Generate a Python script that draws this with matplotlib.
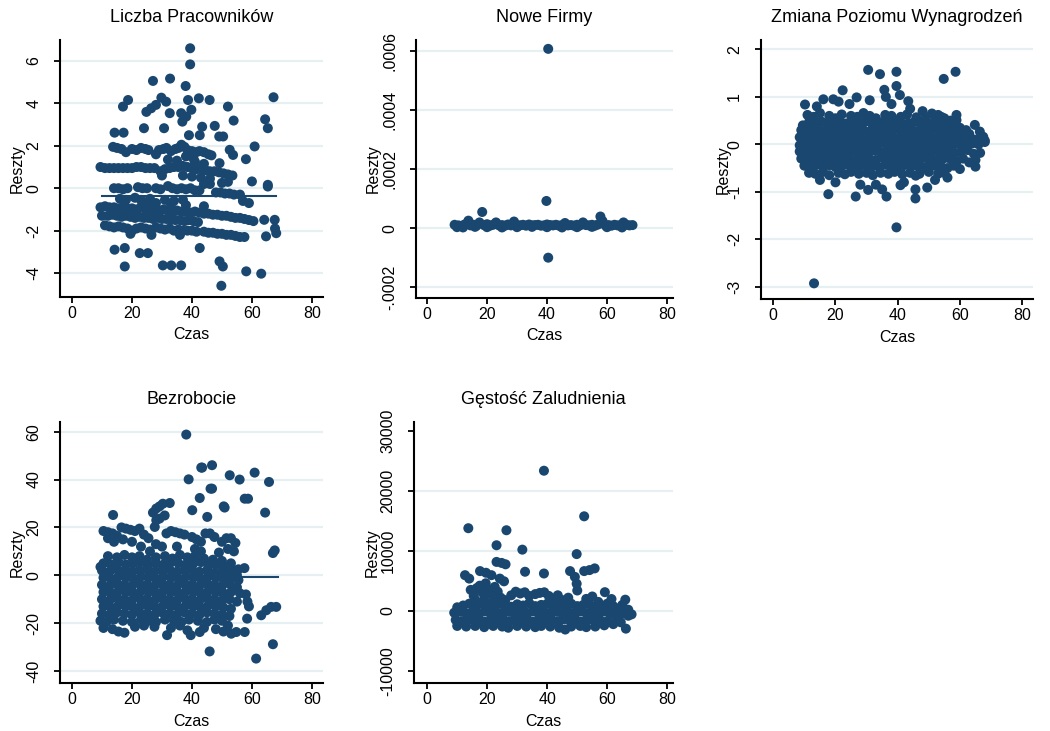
import matplotlib
matplotlib.use('Agg')
import matplotlib.pyplot as plt

plt.rcParams['font.family'] = ['Liberation Sans', 'DejaVu Sans']

# --- dane: (czas, reszta) ---
pracownicy = [
    (39.4, 6.6), (39.4, 5.84), (27, 5.06), (32.7, 5.17), (37.9, 4.82), (17, 3.85), (18.7, 4.16), (29.8, 4.27),
    (31.4, 4.08), (24.8, 3.6), (26.4, 3.77), (28, 3.93), (32.6, 3.54), (36.4, 3.54), (36.8, 3.14), (38.1, 3.38),
    (39.8, 3.7), (38.7, 4.16), (42.3, 4.24), (45.9, 4.16), (52, 3.85), (53.9, 3.19), (64.4, 3.25), (65.3, 2.83),
    (67.2, 4.29), (24, 2.83), (30.7, 2.83), (43.4, 2.9), (47.6, 2.94), (42.6, 2.5), (39, 2.5), (49.1, 2.44),
    (50.4, 2.44), (14.2, 2.62), (17.2, 2.62), (60.9, 1.97), (58, 1.37), (52.6, 1.81), (53.7, 1.57), (49.2, 1.18),
    (60, 0.32), (65.3, 0.16), (65.3, 0.08), (64.1, -1.49), (67.6, -1.49), (64.7, -2.27), (68.1, -2.12),
    (67.7, -1.9), (42.6, -2.82), (14.2, -2.9), (17.6, -2.82), (22.6, -3.06), (25.3, -3.06), (17.6, -3.69),
    (30.3, -3.64), (33.1, -3.64), (36.4, -3.64), (49.2, -3.45), (50.3, -3.69), (58.1, -3.92), (63.1, -4.03),
    (49.8, -4.6),
    (13.7, 1.95), (15, 1.9), (16.5, 1.85), (18, 1.7), (20, 1.85), (21.5, 1.8), (23, 1.9), (24.5, 1.85),
    (25.5, 1.8), (28, 1.6), (29, 1.8), (30.5, 1.85), (31.5, 1.9), (33, 1.75), (34.5, 1.85), (35.5, 1.9),
    (36.5, 2.05), (37.5, 1.95), (38.5, 1.8), (40, 1.75), (41.5, 1.7), (42.5, 1.75), (44, 1.7), (45.5, 1.6),
    (46.5, 1.55), (38, 1.5), (40.5, 1.4),
    (9.5, 1.0), (11, 0.95), (12.5, 0.95), (14, 0.95), (15.5, 0.95), (17, 0.95), (18.5, 0.95), (20, 0.95),
    (21.5, 1.0), (23, 1.0), (24.5, 0.95), (26, 0.95), (27.5, 0.95), (29.5, 0.8), (31, 0.9), (32.5, 0.95),
    (34, 1.0), (35.5, 1.0), (37, 1.05), (38.5, 1.0), (40, 0.95), (41.5, 0.9), (43, 0.9), (44.5, 0.85),
    (46, 0.8), (47.5, 0.8), (49, 0.75), (50.5, 0.7), (52, 0.65), (53.5, 0.6), (35, 1.3), (41, 1.25),
    (44, 1.15), (32, 1.35), (30, 0.6), (37, 0.6), (40, 0.55), (43, 0.5), (46, 0.45),
    (14, 0.0), (15.5, 0.0), (17, -0.05), (18.5, 0.0), (22, 0.05), (23.5, 0.0), (25, 0.0), (28, 0.0),
    (29.5, -0.05), (32, 0.1), (33.5, 0.0), (35, -0.05), (36.5, 0.0), (38, -0.05), (39.5, 0.0), (41, -0.1),
    (42.5, -0.1), (48, -0.2), (49.5, -0.2), (51, -0.25), (52.5, -0.25), (54, -0.3), (56, -0.3), (44, 0.2),
    (46, 0.2), (50, 0.25), (52, 0.3),
    (16, -0.5), (18, -0.55), (21, -0.45), (23, -0.55), (26, -0.5), (31, -0.55), (34, -0.6), (37, -0.55),
    (57, -0.6), (59, -0.7),
    (9.5, -0.9), (11, -0.85), (12.5, -0.9), (14, -0.9), (15.5, -0.95), (17, -0.9), (18.5, -0.95), (20, -0.95),
    (21.5, -1.0), (23, -0.9), (24.5, -1.0), (26, -1.0), (27.5, -1.0), (29, -1.05), (30.5, -1.0), (32, -1.05),
    (33.5, -1.1), (35, -1.05), (36.5, -1.1), (38, -1.1), (39.5, -1.15), (41, -1.1), (42.5, -1.15), (44, -1.2),
    (45.5, -1.2), (47, -1.25), (48.5, -1.25), (50, -1.3), (51.5, -1.3), (53, -1.35), (54.5, -1.4), (56, -1.4),
    (57.5, -1.45), (59, -1.5), (60.5, -1.55),
    (10, -1.3), (12, -1.3), (13.5, -1.25), (15, -1.3), (16.5, -1.35), (18, -1.3), (19.5, -1.35), (21, -1.4),
    (22.5, -1.35), (24, -1.4), (25.5, -1.4), (27, -1.45), (28.5, -1.4), (30, -1.45), (31.5, -1.45), (33, -1.5),
    (34.5, -1.5), (36, -1.5), (37.5, -1.55), (39, -1.5), (40.5, -1.55), (42, -1.6), (23.5, -0.7), (25, -0.75),
    (28, -0.7), (33, -0.75), (38, -0.8), (44, -0.85),
    (11, -1.75), (12.5, -1.8), (14, -1.85), (15.5, -1.8), (17, -1.85), (18.5, -1.9), (20, -2.0), (21.5, -1.9),
    (23, -1.85), (24.5, -1.9), (26, -1.95), (28, -1.85), (29.5, -1.9), (31, -1.95), (32.5, -1.9), (34, -2.0),
    (35.5, -1.95), (37, -2.0), (38.5, -2.0), (40, -2.0), (41.5, -2.05), (44, -2.05), (45.5, -2.1), (47, -2.1),
    (48.5, -2.15), (50, -2.15), (51.5, -2.2), (53, -2.2), (54.5, -2.25), (56, -2.3), (57.5, -2.3), (19.5, -2.15),
    (26.5, -2.2), (36, -2.2),
]

nowe_firmy = [
    (40.4, 0.000608), (39.8, 0.0000927), (40.4, -0.0000994), (18.4, 0.0000554),
    (9.2, 1.2e-5), (10.5, 1.0e-5), (11.5, 0.8e-5), (12.5, 1.3e-5), (13.8, 2.6e-5), (14.5, 1.0e-5), (15.5, 1.2e-5),
    (16.5, 0.9e-5), (17.5, 2.0e-5), (19, 1.1e-5), (20, 1.4e-5), (21, 0.9e-5), (22, 1.2e-5), (23, 2.0e-5),
    (24, 1.0e-5), (25, 1.1e-5), (26, 0.9e-5), (27, 1.3e-5), (28, 1.0e-5), (29, 2.3e-5), (30, 1.1e-5),
    (31, 1.0e-5), (32, 1.2e-5), (33, 0.9e-5), (34, 1.3e-5), (35, 1.0e-5), (36, 1.1e-5), (37, 1.2e-5),
    (38, 0.9e-5), (39, 1.0e-5), (40, 1.3e-5), (41, 1.1e-5), (42, 1.0e-5), (43, 1.2e-5), (44, 0.9e-5),
    (45, 1.1e-5), (46, 1.8e-5), (47, 1.0e-5), (48, 1.1e-5), (49, 0.9e-5), (50, 1.2e-5), (51, 1.0e-5),
    (52, 2.0e-5), (53, 1.1e-5), (54, 1.0e-5), (55, 1.2e-5), (56, 0.9e-5), (57, 1.3e-5), (57.8, 4.0e-5),
    (58.5, 2.5e-5), (59.5, 1.0e-5), (60.5, 1.1e-5), (61.5, 0.9e-5), (62.5, 1.2e-5), (63.5, 1.0e-5),
    (64.5, 1.1e-5), (65.5, 2.0e-5), (66.5, 1.2e-5), (67.5, 1.0e-5), (68.5, 1.1e-5),
    (10, 0.4e-5), (12, 0.3e-5), (16, 0.5e-5), (20, 0.4e-5), (25, 0.3e-5), (30, 0.4e-5), (35, 0.5e-5),
    (40, 0.4e-5), (45, 0.3e-5), (50, 0.4e-5), (55, 0.5e-5), (60, 0.4e-5), (65, 0.3e-5),
]

wynagrodzenia = [
    (30.5, 1.57), (34.3, 1.48), (39.6, 1.53), (54.8, 1.38), (58.6, 1.53), (39.6, 1.23), (35.7, 1.15), (36.2, 1.0),
    (40.7, 1.04), (43.4, 0.91), (22.3, 1.14), (16.1, 0.95), (19.3, 0.95), (26.8, 0.99), (31, 0.93), (10.2, 0.84),
    (17.7, -1.05), (26.5, -1.1), (30.5, -0.96), (36.4, -1.1), (40.9, -0.86), (45.7, -1.14), (45.7, -0.95),
    (45.8, -0.66), (49.5, -0.91), (39.6, -1.75), (13.1, -2.93), (64.8, 0.41), (66.4, 0.27), (67.5, 0.16),
    (68, 0.08), (65, -0.33), (65, -0.47), (58.9, 0.62), (58.9, 0.51), (53, 0.62), (24.5, 0.85), (14, 0.8),
    (21, 0.9), (38, 0.85), (44, 0.75), (48, 0.7), (51, 0.65), (55, 0.55), (33, -0.85), (35, -0.95), (28, -0.85),
    (20, -0.8), (15, -0.75), (42, -0.8), (52, -0.75), (56, -0.7),
    (11, 0.62), (13, 0.58), (15, 0.66), (18, 0.6), (20, 0.55), (22, 0.63), (25, 0.6), (27, 0.58), (29, 0.66),
    (31, 0.6), (33, 0.55), (36, 0.62), (38, 0.6), (41, 0.58), (43, 0.63), (46, 0.57), (49, 0.55), (52, 0.5),
    (54, 0.58), (57, 0.5),
    (9.5, 0.4), (11.5, 0.47), (13.5, 0.43), (15.5, 0.48), (17.5, 0.45), (19.5, 0.42), (21.5, 0.47), (23.5, 0.44),
    (25.5, 0.46), (27.5, 0.42), (29.5, 0.48), (31.5, 0.45), (33.5, 0.43), (35.5, 0.47), (37.5, 0.44),
    (39.5, 0.46), (41.5, 0.42), (43.5, 0.45), (45.5, 0.48), (47.5, 0.43), (49.5, 0.46), (51.5, 0.42),
    (53.5, 0.45), (55.5, 0.44), (57.5, 0.38), (60, 0.35), (62, 0.3),
    (9, 0.3), (11, 0.28), (13, 0.32), (15, 0.29), (17, 0.31), (19, 0.27), (21, 0.3), (23, 0.32), (25, 0.28),
    (27, 0.31), (29, 0.3), (31, 0.27), (33, 0.32), (35, 0.29), (37, 0.3), (39, 0.33), (41, 0.28), (43, 0.31),
    (45, 0.29), (47, 0.3), (49, 0.27), (51, 0.32), (53, 0.29), (55, 0.3), (57, 0.28), (59, 0.25), (61, 0.2),
    (63, 0.22),
    (8.5, 0.15), (10.5, 0.13), (12.5, 0.17), (14.5, 0.14), (16.5, 0.16), (18.5, 0.12), (20.5, 0.15),
    (22.5, 0.17), (24.5, 0.13), (26.5, 0.16), (28.5, 0.14), (30.5, 0.12), (32.5, 0.17), (34.5, 0.15),
    (36.5, 0.13), (38.5, 0.16), (40.5, 0.14), (42.5, 0.17), (44.5, 0.12), (46.5, 0.15), (48.5, 0.14),
    (50.5, 0.16), (52.5, 0.13), (54.5, 0.15), (56.5, 0.12), (58.5, 0.14), (60.5, 0.1), (62.5, 0.12),
    (64.5, 0.1), (66.5, 0.15),
    (8.5, -0.02), (10, 0.01), (12, -0.01), (14, 0.02), (16, 0.0), (18, -0.02), (20, 0.01), (22, 0.0),
    (24, 0.02), (26, -0.01), (28, 0.01), (30, 0.0), (32, -0.02), (34, 0.01), (36, 0.02), (38, -0.01),
    (40, 0.0), (42, 0.01), (44, -0.02), (46, 0.0), (48, 0.02), (50, -0.01), (52, 0.01), (54, 0.0),
    (56, -0.02), (58, 0.01), (60, 0.0), (62, -0.03), (64, 0.02), (66, 0.0), (68, 0.05),
    (8.5, -0.15), (10.5, -0.17), (12.5, -0.13), (14.5, -0.16), (16.5, -0.14), (18.5, -0.17), (20.5, -0.15),
    (22.5, -0.13), (24.5, -0.16), (26.5, -0.14), (28.5, -0.17), (30.5, -0.15), (32.5, -0.13), (34.5, -0.16),
    (36.5, -0.14), (38.5, -0.17), (40.5, -0.15), (42.5, -0.13), (44.5, -0.16), (46.5, -0.14), (48.5, -0.17),
    (50.5, -0.15), (52.5, -0.13), (54.5, -0.16), (56.5, -0.14), (58.5, -0.18), (60.5, -0.15), (62.5, -0.12),
    (64.5, -0.2), (66.5, -0.18),
    (9, -0.3), (11, -0.32), (13, -0.28), (15, -0.31), (17, -0.29), (19, -0.33), (21, -0.3), (23, -0.28),
    (25, -0.32), (27, -0.3), (29, -0.29), (31, -0.31), (33, -0.33), (35, -0.28), (37, -0.3), (39, -0.32),
    (41, -0.29), (43, -0.31), (45, -0.3), (47, -0.33), (49, -0.28), (51, -0.3), (53, -0.32), (55, -0.29),
    (57, -0.31), (59, -0.35), (61, -0.3), (63, -0.38),
    (10, -0.45), (12, -0.47), (14, -0.43), (16, -0.46), (18, -0.44), (20, -0.48), (22, -0.45), (24, -0.43),
    (26, -0.47), (28, -0.45), (30, -0.44), (32, -0.46), (34, -0.48), (36, -0.43), (38, -0.45), (40, -0.47),
    (42, -0.44), (44, -0.46), (46, -0.45), (48, -0.48), (50, -0.43), (52, -0.45), (54, -0.47), (56, -0.5),
    (58, -0.45), (60, -0.52),
    (11.5, -0.6), (13.5, -0.62), (16, -0.58), (18, -0.65), (21, -0.6), (23, -0.63), (25, -0.58), (27.5, -0.62),
    (30, -0.6), (32, -0.65), (34.5, -0.6), (37, -0.62), (39, -0.58), (41.5, -0.63), (44, -0.6), (47, -0.62),
    (50, -0.58), (53, -0.62), (55, -0.6),
]

bezrobocie = [
    (38.1, 58.8), (43.1, 45), (43.4, 45), (46.7, 46), (52.6, 41.8), (55.9, 40), (60.9, 42.9), (65.7, 39),
    (38.9, 40.1), (46.2, 36.2), (46.7, 36.2), (42.6, 32.3), (57.6, 32), (58.7, 32), (50.6, 28.8), (50.9, 28.3),
    (40.1, 27.2), (64.4, 26.2), (45.1, 24.4), (13.7, 25.2), (27, 26.2), (28.1, 27.9), (29.2, 28.8), (30.3, 29.9),
    (32.6, 30.2), (28.1, 23), (29.2, 23.7), (30.9, 25), (27.6, 20.2), (67.6, 10.4), (67, 9.3), (67, -28.8),
    (61.4, -34.8), (45.9, -31.8), (31.7, -25), (39.6, -25), (42.6, -23.7), (53.1, -24.4), (54.8, -23.7),
    (57.6, -23.7), (58.4, -18.1), (63.1, -16.7), (64.8, -14.6), (66.4, -13.2), (68.1, -13.2), (9.5, 3.5),
    (57.5, 3), (58, -8), (58.5, -11), (59, -13),
    (10.5, 18.5), (12, 18), (13.5, 17.5), (15, 16.5), (16.5, 20), (18, 19.5), (19.5, 19), (21, 18.5),
    (22.5, 19.5), (24, 17), (25.5, 15.5), (17, 15), (14, 14), (20, 14), (12, 15.5), (33, 18.5), (34.5, 18),
    (36, 17.5), (37.5, 17), (31.5, 17.5), (40, 16), (41.5, 15), (43, 14), (44.5, 17.5), (46, 17.5), (47.5, 16),
    (50, 14), (51.5, 15.5), (53, 15.5), (54.5, 13.5), (52, 11), (54, 10), (49, 9.5), (28, 13), (30, 12),
    (41, 11), (43, 10), (23, 12), (35, 12), (26, 10),
    (12, 8), (15, 7.5), (17.5, 8.5), (20, 7.5), (22.5, 8), (25, 6.5), (28, 7.5), (31, 8), (33.5, 7), (36, 8.5),
    (38.5, 7.5), (41, 8), (44, 7), (47, 6.5), (50, 6), (53, 5),
    (10.5, 5), (13, 4.5), (15.5, 5.5), (18, 4.5), (20.5, 5), (23, 5.5), (25.5, 4.5), (28, 5), (30.5, 4.5),
    (33, 5.5), (35.5, 5), (38, 4.5), (40.5, 5), (43, 5.5), (45.5, 4), (48, 4.5), (50.5, 3.5), (53, 3), (55.5, 2.5),
    (10, 2), (12.5, 1.5), (15, 2.5), (17.5, 2), (20, 1.5), (22.5, 2), (25, 2.5), (27.5, 1.5), (30, 2), (32.5, 2.5),
    (35, 1.5), (37.5, 2), (40, 2.5), (42.5, 1.5), (45, 2), (47.5, 1), (50, 1.5), (52.5, 0.5), (55, 0),
    (10.5, -1), (13, -1.5), (15.5, -0.5), (18, -1), (20.5, -1.5), (23, -0.5), (25.5, -1), (28, -1.5),
    (30.5, -0.5), (33, -1), (35.5, -1.5), (38, -0.5), (40.5, -1), (43, -1.5), (45.5, -0.5), (48, -1),
    (50.5, -1.5), (53, -1), (55.5, -2),
    (10, -4), (12.5, -4.5), (15, -3.5), (17.5, -4), (20, -4.5), (22.5, -3.5), (25, -4), (27.5, -4.5), (30, -3.5),
    (32.5, -4), (35, -4.5), (37.5, -3.5), (40, -4), (42.5, -4.5), (45, -3.5), (47.5, -4), (50, -4.5),
    (52.5, -3.5), (55, -5),
    (10.5, -7), (13, -7.5), (15.5, -6.5), (18, -7), (20.5, -7.5), (23, -6.5), (25.5, -7), (28, -7.5),
    (30.5, -6.5), (33, -7), (35.5, -7.5), (38, -6.5), (40.5, -7), (43, -7.5), (45.5, -6.5), (48, -7),
    (50.5, -7.5), (53, -7), (56, -7.5),
    (10, -10), (12.5, -10.5), (15, -9.5), (17.5, -10), (20, -10.5), (22.5, -9.5), (25, -10), (27.5, -10.5),
    (30, -9.5), (32.5, -10), (35, -10.5), (37.5, -9.5), (40, -10), (42.5, -10.5), (45, -9.5), (47.5, -10),
    (50, -10.5), (52.5, -10), (55, -11),
    (10.5, -13), (13, -13.5), (15.5, -12.5), (18, -13), (20.5, -13.5), (23, -12.5), (25.5, -13), (28, -13.5),
    (30.5, -12.5), (33, -13), (35.5, -13.5), (38, -12.5), (40.5, -13), (43, -13.5), (45.5, -12.5), (48, -13),
    (50.5, -13.5), (53, -14),
    (10, -16), (12.5, -16.5), (15, -15.5), (17.5, -16), (20, -16.5), (22.5, -15.5), (25, -16), (27.5, -16.5),
    (30, -15.5), (32.5, -16), (35, -16.5), (37.5, -15.5), (40, -16), (42.5, -16.5), (45, -15.5), (47.5, -16),
    (50, -16.5), (52.5, -17),
    (9.5, -19), (11.5, -19.5), (14, -18.5), (17, -19), (20, -19.5), (23, -18.5), (25.5, -19), (28, -19.5),
    (31, -18.5), (34, -19), (36.5, -19.5), (39, -18.5), (42, -19), (45, -19.5), (47.5, -18.5), (50, -19),
    (10.5, -22), (13.5, -22.5), (15.5, -23.5), (17.5, -24), (21, -21.5), (24, -21), (27.5, -21.5), (33, -22),
    (36, -21), (38.5, -23), (44, -22), (48, -22.5), (50.5, -23.5), (52, -21),
]

gestosc = [
    (38.9, 23340), (52.3, 15750), (13.7, 13770), (26.4, 13430), (23.1, 10930), (31.7, 10200), (49.8, 9460),
    (23.1, 8160), (24.8, 7990), (26.1, 7760), (32.6, 6520), (38.9, 6230), (12.6, 5950), (14, 5380), (17.6, 6630),
    (19.6, 6350), (21.4, 5950), (24.2, 5380), (25.6, 4930), (47.6, 6630), (49.2, 5670), (49.8, 4530), (50, 3400),
    (52.3, 6630), (54.1, 6800), (55.8, 7080), (59.2, 3120), (61.4, 1980), (66, 1870), (66.2, -2950),
    (68.1, -570), (65, 1000), (67, 200),
    (14.5, 3500), (15.5, 2500), (16.5, 3800), (17.5, 4200), (18.5, 3000), (19.5, 4600), (20.5, 3600),
    (21.5, 2800), (22.5, 4000), (23.5, 3200), (24.5, 2200), (16, 1800), (19, 2000), (22, 1600), (26, 1800),
    (28, 2600), (29.5, 3200), (31, 2900), (32.5, 3100), (34, 2500), (36, 2800), (37.5, 3000), (39, 3100),
    (40.5, 2500), (42, 2000), (43.5, 2600), (45, 1800), (47, 2200), (53, 2000), (55, 2400), (57, 1500),
    (60, 1200), (62, 800),
    (10, 600), (12, 900), (14, 1200), (16, 800), (18, 1300), (20, 1000), (22, 800), (24, 1200), (26, 900),
    (28, 700), (30, 1100), (32, 900), (34, 1300), (36, 800), (38, 1000), (40, 1200), (42, 800), (44, 1100),
    (46, 900), (48, 1200), (50, 800), (52, 1000), (54, 1100), (56, 700), (58, 900), (60, 500), (63, 400),
    (9, -300), (11, -100), (13, -400), (15, -200), (17, -300), (19, -100), (21, -400), (23, -200), (25, -300),
    (27, -100), (29, -400), (31, -200), (33, -300), (35, -100), (37, -400), (39, -200), (41, -300), (43, -100),
    (45, -400), (47, -200), (49, -300), (51, -100), (53, -400), (55, -200), (57, -300), (59, -100), (61, -500),
    (63, -200), (65, -400), (67, -800),
    (9.5, -1500), (11.5, -1700), (13.5, -1400), (15.5, -1600), (17.5, -1500), (19.5, -1800), (21.5, -1400),
    (23.5, -1600), (25.5, -1500), (27.5, -1700), (29.5, -1400), (31.5, -1600), (33.5, -1500), (35.5, -1800),
    (37.5, -1400), (39.5, -1600), (41.5, -1500), (43.5, -1700), (45.5, -1400), (47.5, -1600), (49.5, -1500),
    (51.5, -1800), (53.5, -1400), (55.5, -1600), (57.5, -1500), (60, -1700), (63, -1400), (64.5, -1900),
    (10, -2500), (13, -2600), (16, -2500), (19, -2700), (22, -2500), (25, -2600), (27, -2800), (30, -2500),
    (33, -2600), (36, -2700), (38, -2500), (41, -2600), (44, -2800), (46, -3100), (48, -2600), (51, -2500),
    (53, -2700), (56, -2600), (59, -2400), (62, -2200),
]

# linie dopasowania (czas od, czas do, poziom)
linie = [(10, 68, -0.38), (9, 68.5, 1.2e-5), (9, 68.5, -0.02), (10, 68.7, -0.6), (9, 68.5, -500)]

tytuly = ["Liczba Pracowników", "Nowe Firmy", "Zmiana Poziomu Wynagrodzeń", "Bezrobocie", "Gęstość Zaludnienia"]
yticks = [
    [-4, -2, 0, 2, 4, 6],
    [-0.0002, 0, 0.0002, 0.0004, 0.0006],
    [-3, -2, -1, 0, 1, 2],
    [-40, -20, 0, 20, 40, 60],
    [-10000, 0, 10000, 20000, 30000],
]
yticklabels = [
    ["-4", "-2", "0", "2", "4", "6"],
    ["-.0002", "0", ".0002", ".0004", ".0006"],
    ["-3", "-2", "-1", "0", "1", "2"],
    ["-40", "-20", "0", "20", "40", "60"],
    ["-10000", "0", "10000", "20000", "30000"],
]
siatka = [yticks[0], yticks[1], yticks[2], yticks[3], [0, 10000, 20000]]
dane = [pracownicy, nowe_firmy, wynagrodzenia, bezrobocie, gestosc]

# polozenie paneli w pikselach: lewo, prawo, gora, dol
piksele = [(60, 323, 40, 297), (416, 673, 40, 298), (761, 1033, 40, 299), (60, 323, 422, 683), (414, 673, 422, 683)]
xlims = [(-4, 83.7), (-3.67, 82), (-3.95, 83.5), (-4, 83.7), (-4.4, 81.9)]
ylims = [(-5.13, 6.99), (-0.000236, 0.000638), (-3.26, 2.2), (-45.0, 64.05), (-12000, 31450)]
ylab_x = [-0.163, -0.167, -0.14, -0.163, -0.162]

W, H = 1050, 731
kolor = '#1a476f'
fig = plt.figure(figsize=(W / 100, H / 100), dpi=100)

for i in range(5):
    l, r, t, b = piksele[i]
    ax = fig.add_axes([l / W, 1 - b / H, (r - l) / W, (b - t) / H])
    xs = [p[0] for p in dane[i]]
    ys = [p[1] for p in dane[i]]
    for g in siatka[i]:
        ax.axhline(g, color='#e6eff1', lw=1.6, zorder=0)
    x0, x1, yl = linie[i]
    ax.plot([x0, x1], [yl, yl], color=kolor, lw=1.5, zorder=2)
    ax.scatter(xs, ys, s=52, color=kolor, edgecolors='none', zorder=3)
    ax.set_xlim(*xlims[i])
    ax.set_ylim(*ylims[i])
    ax.set_xticks([0, 20, 40, 60, 80])
    ax.set_yticks(yticks[i])
    ax.set_yticklabels(yticklabels[i], rotation=90, va='center', ha='right')
    for s in ['top', 'right']:
        ax.spines[s].set_visible(False)
    for s in ['left', 'bottom']:
        ax.spines[s].set_linewidth(1.5)
    ax.tick_params(direction='out', length=4.5, width=1.3, labelsize=11.5, pad=2)
    ax.tick_params(axis='y', pad=9)
    ax.set_xlabel("Czas", fontsize=11.5, va='center')
    ax.xaxis.set_label_coords(0.5, -38 / (b - t))
    ax.set_ylabel("Reszty", fontsize=11.5, va='center')
    ax.yaxis.set_label_coords(ylab_x[i], 0.5)
    ax.text(0.5, 1 + 22 / (b - t), tytuly[i], transform=ax.transAxes, ha='center', va='center', fontsize=13)

fig.savefig("out.png", dpi=100)
